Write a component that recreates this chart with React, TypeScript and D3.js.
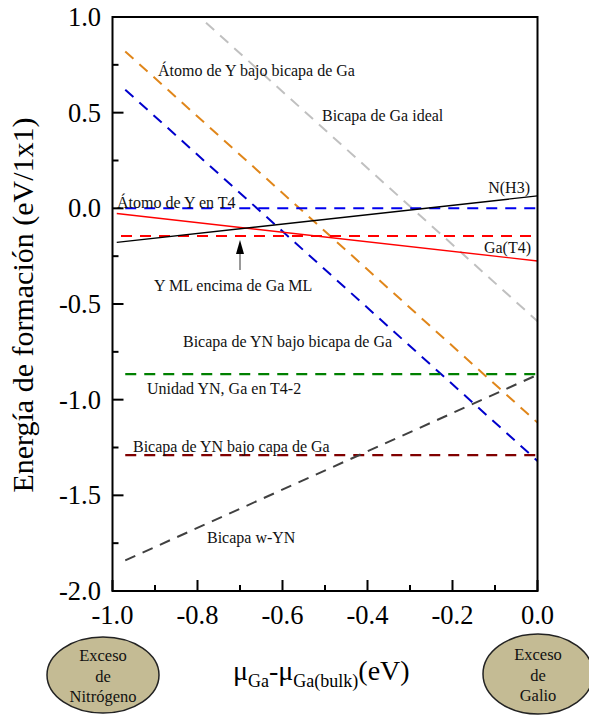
import React from "react";
import * as d3 from "d3";

// Formation energy lines: each series is given by its two end points [mu, E]
const grayIdeal: [number, number][] = [[-0.78, 0.97], [0, -0.59]];
const orangeYUnderBilayer: [number, number][] = [[-0.97, 0.82], [0, -1.12]];
const blueYNUnderBilayer: [number, number][] = [[-0.97, 0.62], [0, -1.32]];
const blueYT4: [number, number][] = [[-0.97, 0.0], [0, 0.0]];
const redYMLonGaML: [number, number][] = [[-0.98, -0.145], [0, -0.145]];
const redGaT4: [number, number][] = [[-0.99, -0.027], [0, -0.275]];
const blackNH3: [number, number][] = [[-0.99, -0.178], [0, 0.065]];
const greenYNUnit: [number, number][] = [[-0.97, -0.866], [0, -0.866]];
const darkRedYNUnderLayer: [number, number][] = [[-0.97, -1.29], [0, -1.29]];
const darkGrayWYN: [number, number][] = [[-0.97, -1.84], [0, -0.87]];

const xMajorTicks = [-1.0, -0.8, -0.6, -0.4, -0.2, 0.0];
const xMinorTicks = [-0.9, -0.7, -0.5, -0.3, -0.1];
const yMajorTicks = [1.0, 0.5, 0.0, -0.5, -1.0, -1.5, -2.0];
const yMinorTicks = [0.75, 0.25, -0.25, -0.75, -1.25, -1.75];

type Series = {
  pts: [number, number][];
  color: string;
  dashed: boolean;
  width: number;
};

const series: Series[] = [
  { pts: grayIdeal, color: "#c0c0c0", dashed: true, width: 2 },
  { pts: orangeYUnderBilayer, color: "#e0861a", dashed: true, width: 2 },
  { pts: blueYNUnderBilayer, color: "#0000cc", dashed: true, width: 2 },
  { pts: blueYT4, color: "#0000ee", dashed: true, width: 2 },
  { pts: redYMLonGaML, color: "#ff0000", dashed: true, width: 2 },
  { pts: greenYNUnit, color: "#008000", dashed: true, width: 2.2 },
  { pts: darkRedYNUnderLayer, color: "#800000", dashed: true, width: 2.2 },
  { pts: darkGrayWYN, color: "#404040", dashed: true, width: 2 },
  { pts: redGaT4, color: "#ff0000", dashed: false, width: 1.4 },
  { pts: blackNH3, color: "#000000", dashed: false, width: 1.4 },
];

const labels: { text: string; x: number; y: number; anchor?: string }[] = [
  { text: "Átomo de Y bajo bicapa de Ga", x: 158, y: 76 },
  { text: "Bicapa de Ga ideal", x: 322, y: 121 },
  { text: "Átomo de Y en T4", x: 117, y: 208 },
  { text: "N(H3)", x: 530, y: 193, anchor: "end" },
  { text: "Ga(T4)", x: 531, y: 253, anchor: "end" },
  { text: "Y ML encima de Ga ML", x: 154, y: 291 },
  { text: "Bicapa de YN bajo bicapa de Ga", x: 183, y: 347 },
  { text: "Unidad YN, Ga en T4-2", x: 147, y: 394 },
  { text: "Bicapa de YN bajo capa de Ga", x: 133, y: 452 },
  { text: "Bicapa w-YN", x: 207, y: 543 },
];

const FONT = "Liberation Serif, DejaVu Serif, serif";

export default function App() {
  const x = d3.scaleLinear().domain([-1, 0]).range([112.5, 537.5]);
  const y = d3.scaleLinear().domain([-2, 1]).range([591, 17]);
  const line = d3
    .line<[number, number]>()
    .x((d) => x(d[0]))
    .y((d) => y(d[1]));

  const arrowX = x(-0.7);
  const arrowTip = y(-0.145) + 4;
  const fmt = (t: number) => d3.format(".1f")(t).replace("−", "-");
  const txt = { fontFamily: FONT };

  return (
    <svg
      width={589}
      height={715}
      style={{ position: "absolute", left: 0, top: 0, background: "#fff", fontFamily: FONT }}
    >
      <rect width={589} height={715} fill="#fff" />

      {/* data lines */}
      {series.map((s, i) => (
        <path
          key={i}
          d={line(s.pts) ?? ""}
          fill="none"
          stroke={s.color}
          strokeWidth={s.width}
          strokeDasharray={s.dashed ? "11 8" : undefined}
        />
      ))}

      {/* arrow pointing at the Y ML line */}
      <line x1={arrowX} x2={arrowX} y1={arrowTip + 12} y2={y(-0.145) + 34} stroke="#555" strokeWidth={1.2} />
      <path
        d={`M${arrowX},${arrowTip} L${arrowX - 4},${arrowTip + 14} L${arrowX + 4},${arrowTip + 14} Z`}
        fill="#000"
      />

      {/* annotations */}
      {labels.map((l, i) => (
        <text key={i} x={l.x} y={l.y} fontSize={16} textAnchor={l.anchor ?? "start"} fill="#111" style={txt}>
          {l.text}
        </text>
      ))}

      {/* frame */}
      <rect
        x={x(-1)}
        y={y(1)}
        width={x(0) - x(-1)}
        height={y(-2) - y(1)}
        fill="none"
        stroke="#000"
        strokeWidth={2}
      />

      {/* ticks */}
      {xMajorTicks.map((t) => (
        <line key={"xM" + t} x1={x(t)} x2={x(t)} y1={y(-2)} y2={y(-2) - 11} stroke="#000" strokeWidth={2} />
      ))}
      {xMinorTicks.map((t) => (
        <line key={"xm" + t} x1={x(t)} x2={x(t)} y1={y(-2)} y2={y(-2) - 6} stroke="#000" strokeWidth={2} />
      ))}
      {yMajorTicks.map((t) => (
        <line key={"yM" + t} x1={x(-1)} x2={x(-1) + 11} y1={y(t)} y2={y(t)} stroke="#000" strokeWidth={2} />
      ))}
      {yMinorTicks.map((t) => (
        <line key={"ym" + t} x1={x(-1)} x2={x(-1) + 6} y1={y(t)} y2={y(t)} stroke="#000" strokeWidth={2} />
      ))}

      {/* tick labels */}
      {xMajorTicks.map((t) => (
        <text key={"xl" + t} x={x(t)} y={624} fontSize={26.5} textAnchor="middle" fill="#000" style={txt}>
          {fmt(t)}
        </text>
      ))}
      {yMajorTicks.map((t) => (
        <text key={"yl" + t} x={101} y={y(t) + 9} fontSize={26.5} textAnchor="end" fill="#000" style={txt}>
          {fmt(t)}
        </text>
      ))}

      {/* axis titles */}
      <text
        transform={`translate(33, 305) rotate(-90)`}
        fontSize={30}
        textAnchor="middle"
        fill="#000"
        style={txt}
      >
        Energía de formación (eV/1x1)
      </text>
      <text x={233} y={680} fontSize={28} fill="#000" style={txt}>
        μ
        <tspan fontSize={18} dy={7}>Ga</tspan>
        <tspan dy={-7}>-μ</tspan>
        <tspan fontSize={18} dy={7}>Ga(bulk)</tspan>
        <tspan dy={-7}>(eV)</tspan>
      </text>

      {/* regime badges */}
      <ellipse cx={103} cy={675} rx={56} ry={38} fill="#c4bb94" stroke="#222" strokeWidth={1.5} />
      {["Exceso", "de", "Nitrógeno"].map((t) => t).map((t, i) => (
        <text key={"n" + t} x={103} y={661 + i * 20.5} fontSize={16.5} textAnchor="middle" fill="#111" style={txt}>
          {t}
        </text>
      ))}
      <ellipse cx={538} cy={674} rx={55} ry={40} fill="#c4bb94" stroke="#222" strokeWidth={1.5} />
      {["Exceso", "de", "Galio"].map((t, i) => (
        <text key={"g" + t} x={538} y={660 + i * 20.5} fontSize={16.5} textAnchor="middle" fill="#111" style={txt}>
          {t}
        </text>
      ))}
    </svg>
  );
}
